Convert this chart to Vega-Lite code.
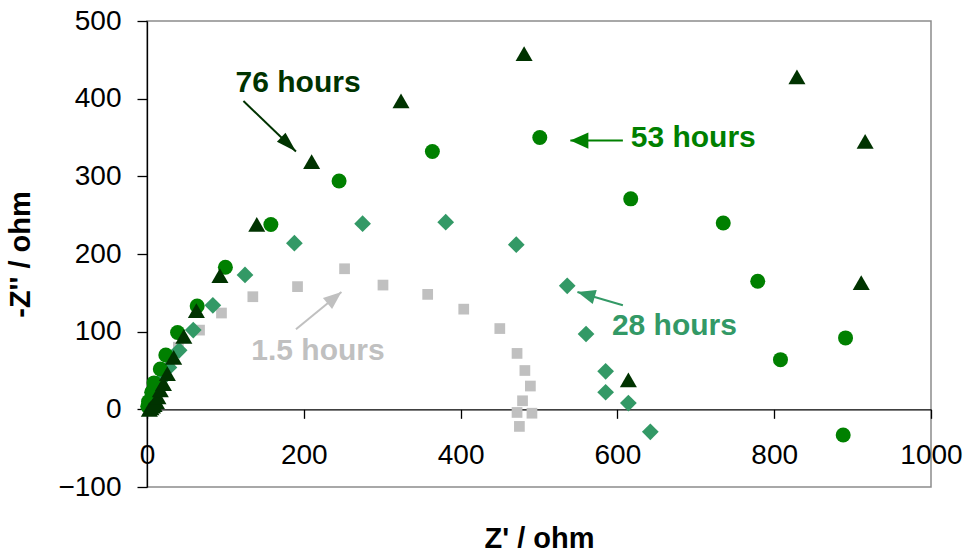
{
  "$schema": "https://vega.github.io/schema/vega-lite/v6.json",
  "width": 784,
  "height": 466,
  "autosize": {"type": "none"},
  "padding": {"left": 147, "top": 21, "right": 38, "bottom": 67},
  "background": "white",
  "config": {
    "font": "Liberation Sans",
    "view": {"stroke": "#8c8c8c", "strokeWidth": 1.5},
    "axis": {
      "grid": false,
      "domainColor": "black",
      "domainWidth": 1.3,
      "tickColor": "black",
      "tickWidth": 1.3,
      "labelColor": "black",
      "labelFont": "Liberation Sans",
      "labelFontSize": 28,
      "labelFlush": false,
      "labelOverlap": false,
      "labelBound": false,
      "titleColor": "black",
      "titleFont": "Liberation Sans",
      "titleFontSize": 29,
      "titleFontWeight": "bold",
      "zindex": 1
    },
    "point": {"filled": true, "opacity": 1, "strokeWidth": 0}
  },
  "datasets": {
    "impedance": [
      {"series": "1.5 hours", "z_re": 3, "z_im": 6},
      {"series": "1.5 hours", "z_re": 7, "z_im": 15},
      {"series": "1.5 hours", "z_re": 12, "z_im": 27},
      {"series": "1.5 hours", "z_re": 20, "z_im": 42},
      {"series": "1.5 hours", "z_re": 29, "z_im": 60},
      {"series": "1.5 hours", "z_re": 40, "z_im": 80},
      {"series": "1.5 hours", "z_re": 67, "z_im": 102},
      {"series": "1.5 hours", "z_re": 95, "z_im": 124},
      {"series": "1.5 hours", "z_re": 135, "z_im": 145},
      {"series": "1.5 hours", "z_re": 192, "z_im": 158},
      {"series": "1.5 hours", "z_re": 252, "z_im": 181},
      {"series": "1.5 hours", "z_re": 301, "z_im": 160},
      {"series": "1.5 hours", "z_re": 358, "z_im": 148},
      {"series": "1.5 hours", "z_re": 404, "z_im": 129},
      {"series": "1.5 hours", "z_re": 450, "z_im": 104},
      {"series": "1.5 hours", "z_re": 472, "z_im": 72},
      {"series": "1.5 hours", "z_re": 482, "z_im": 50},
      {"series": "1.5 hours", "z_re": 489, "z_im": 30},
      {"series": "1.5 hours", "z_re": 479, "z_im": 11},
      {"series": "1.5 hours", "z_re": 472, "z_im": -4},
      {"series": "1.5 hours", "z_re": 491, "z_im": -5},
      {"series": "1.5 hours", "z_re": 475, "z_im": -22},

      {"series": "28 hours", "z_re": 3, "z_im": 6},
      {"series": "28 hours", "z_re": 7, "z_im": 15},
      {"series": "28 hours", "z_re": 12, "z_im": 26},
      {"series": "28 hours", "z_re": 18, "z_im": 38},
      {"series": "28 hours", "z_re": 28, "z_im": 54},
      {"series": "28 hours", "z_re": 41, "z_im": 76},
      {"series": "28 hours", "z_re": 59, "z_im": 102},
      {"series": "28 hours", "z_re": 84, "z_im": 134},
      {"series": "28 hours", "z_re": 125, "z_im": 173},
      {"series": "28 hours", "z_re": 188, "z_im": 214},
      {"series": "28 hours", "z_re": 275, "z_im": 239},
      {"series": "28 hours", "z_re": 381, "z_im": 241},
      {"series": "28 hours", "z_re": 471, "z_im": 212},
      {"series": "28 hours", "z_re": 536, "z_im": 159},
      {"series": "28 hours", "z_re": 560, "z_im": 97},
      {"series": "28 hours", "z_re": 585, "z_im": 49},
      {"series": "28 hours", "z_re": 585, "z_im": 22},
      {"series": "28 hours", "z_re": 614, "z_im": 8},
      {"series": "28 hours", "z_re": 642, "z_im": -29},

      {"series": "53 hours", "z_re": 1, "z_im": 4},
      {"series": "53 hours", "z_re": 2, "z_im": 10},
      {"series": "53 hours", "z_re": 6, "z_im": 22},
      {"series": "53 hours", "z_re": 9, "z_im": 34},
      {"series": "53 hours", "z_re": 17, "z_im": 52},
      {"series": "53 hours", "z_re": 24, "z_im": 70},
      {"series": "53 hours", "z_re": 39, "z_im": 99},
      {"series": "53 hours", "z_re": 64, "z_im": 133},
      {"series": "53 hours", "z_re": 100, "z_im": 183},
      {"series": "53 hours", "z_re": 158, "z_im": 238},
      {"series": "53 hours", "z_re": 245, "z_im": 294},
      {"series": "53 hours", "z_re": 364, "z_im": 332},
      {"series": "53 hours", "z_re": 501, "z_im": 350},
      {"series": "53 hours", "z_re": 617, "z_im": 271},
      {"series": "53 hours", "z_re": 735, "z_im": 240},
      {"series": "53 hours", "z_re": 779, "z_im": 165},
      {"series": "53 hours", "z_re": 808, "z_im": 64},
      {"series": "53 hours", "z_re": 891, "z_im": 92},
      {"series": "53 hours", "z_re": 888, "z_im": -33},

      {"series": "76 hours", "z_re": 3, "z_im": 0},
      {"series": "76 hours", "z_re": 5, "z_im": 2},
      {"series": "76 hours", "z_re": 7, "z_im": 4},
      {"series": "76 hours", "z_re": 9, "z_im": 6},
      {"series": "76 hours", "z_re": 12, "z_im": 10},
      {"series": "76 hours", "z_re": 14, "z_im": 16},
      {"series": "76 hours", "z_re": 17, "z_im": 25},
      {"series": "76 hours", "z_re": 21, "z_im": 33},
      {"series": "76 hours", "z_re": 26, "z_im": 46},
      {"series": "76 hours", "z_re": 34, "z_im": 67},
      {"series": "76 hours", "z_re": 47, "z_im": 94},
      {"series": "76 hours", "z_re": 63, "z_im": 127},
      {"series": "76 hours", "z_re": 93, "z_im": 172},
      {"series": "76 hours", "z_re": 140, "z_im": 238},
      {"series": "76 hours", "z_re": 210, "z_im": 319},
      {"series": "76 hours", "z_re": 324, "z_im": 397},
      {"series": "76 hours", "z_re": 481, "z_im": 458},
      {"series": "76 hours", "z_re": 829, "z_im": 428},
      {"series": "76 hours", "z_re": 916, "z_im": 345},
      {"series": "76 hours", "z_re": 911, "z_im": 163},
      {"series": "76 hours", "z_re": 614, "z_im": 38}
    ],
    "arrows": [
      {"series": "1.5 hours", "z_re": 190, "z_im": 103, "z_re_tip": 248, "z_im_tip": 151},
      {"series": "28 hours", "z_re": 607, "z_im": 134, "z_re_tip": 549, "z_im_tip": 151},
      {"series": "53 hours", "z_re": 607, "z_im": 346, "z_re_tip": 540, "z_im_tip": 346},
      {"series": "76 hours", "z_re": 123, "z_im": 397, "z_re_tip": 190, "z_im_tip": 332}
    ],
    "labels": [
      {"series": "1.5 hours", "z_re": 133, "z_im": 75},
      {"series": "28 hours", "z_re": 593, "z_im": 107},
      {"series": "53 hours", "z_re": 617, "z_im": 350},
      {"series": "76 hours", "z_re": 113, "z_im": 420}
    ]
  },
  "encoding": {
    "x": {
      "field": "z_re", "type": "quantitative",
      "scale": {"domain": [0, 1000], "nice": false, "zero": false},
      "axis": {
        "title": "Z' / ohm",
        "values": [0, 200, 400, 600, 800, 1000],
        "format": "d",
        "offset": -77.67,
        "tickSize": 9,
        "labelPadding": 23,
        "titlePadding": 55
      }
    },
    "y": {
      "field": "z_im", "type": "quantitative",
      "scale": {"domain": [-100, 500], "nice": false, "zero": false},
      "axis": {
        "title": "-Z'' / ohm",
        "values": [-100, 0, 100, 200, 300, 400, 500],
        "format": "d",
        "tickSize": 10,
        "labelPadding": 16,
        "titlePadding": 22
      }
    },
    "color": {
      "field": "series", "type": "nominal", "legend": null,
      "scale": {"domain": ["1.5 hours", "28 hours", "53 hours", "76 hours"], "range": ["#c0c0c0", "#339966", "#008000", "#003300"]}
    }
  },
  "layer": [
    {
      "data": {"name": "impedance"},
      "transform": [{"filter": "datum.series === '1.5 hours'"}],
      "mark": {"type": "point", "shape": "square", "size": 115}
    },
    {
      "data": {"name": "impedance"},
      "transform": [{"filter": "datum.series === '28 hours'"}],
      "mark": {"type": "point", "shape": "diamond", "size": 280}
    },
    {
      "data": {"name": "impedance"},
      "transform": [{"filter": "datum.series === '53 hours'"}],
      "mark": {"type": "point", "shape": "circle", "size": 225}
    },
    {
      "data": {"name": "impedance"},
      "transform": [{"filter": "datum.series === '76 hours'"}],
      "mark": {"type": "point", "shape": "triangle-up", "size": 290}
    },
    {
      "data": {"name": "arrows"},
      "mark": {"type": "rule", "strokeWidth": 2},
      "encoding": {
        "x2": {"field": "z_re_tip"},
        "y2": {"field": "z_im_tip"}
      }
    },
    {
      "data": {"name": "arrows"},
      "transform": [{"filter": "datum.series === '1.5 hours'"}],
      "mark": {"type": "point", "shape": "M0,0L0.8,2L-0.8,2Z", "size": 324, "angle": 50.6},
      "encoding": {
        "x": {"field": "z_re_tip", "type": "quantitative"},
        "y": {"field": "z_im_tip", "type": "quantitative"}
      }
    },
    {
      "data": {"name": "arrows"},
      "transform": [{"filter": "datum.series === '28 hours'"}],
      "mark": {"type": "point", "shape": "M0,0L0.8,2L-0.8,2Z", "size": 324, "angle": 286},
      "encoding": {
        "x": {"field": "z_re_tip", "type": "quantitative"},
        "y": {"field": "z_im_tip", "type": "quantitative"}
      }
    },
    {
      "data": {"name": "arrows"},
      "transform": [{"filter": "datum.series === '53 hours'"}],
      "mark": {"type": "point", "shape": "M0,0L0.9,2L-0.9,2Z", "size": 324, "angle": 270},
      "encoding": {
        "x": {"field": "z_re_tip", "type": "quantitative"},
        "y": {"field": "z_im_tip", "type": "quantitative"}
      }
    },
    {
      "data": {"name": "arrows"},
      "transform": [{"filter": "datum.series === '76 hours'"}],
      "mark": {"type": "point", "shape": "M0,0L0.6,2L-0.6,2Z", "size": 420, "angle": 134},
      "encoding": {
        "x": {"field": "z_re_tip", "type": "quantitative"},
        "y": {"field": "z_im_tip", "type": "quantitative"}
      }
    },
    {
      "data": {"name": "labels"},
      "mark": {"type": "text", "align": "left", "baseline": "middle", "fontSize": 30, "fontWeight": "bold", "font": "Liberation Sans"},
      "encoding": {
        "text": {"field": "series", "type": "nominal"}
      }
    }
  ]
}
